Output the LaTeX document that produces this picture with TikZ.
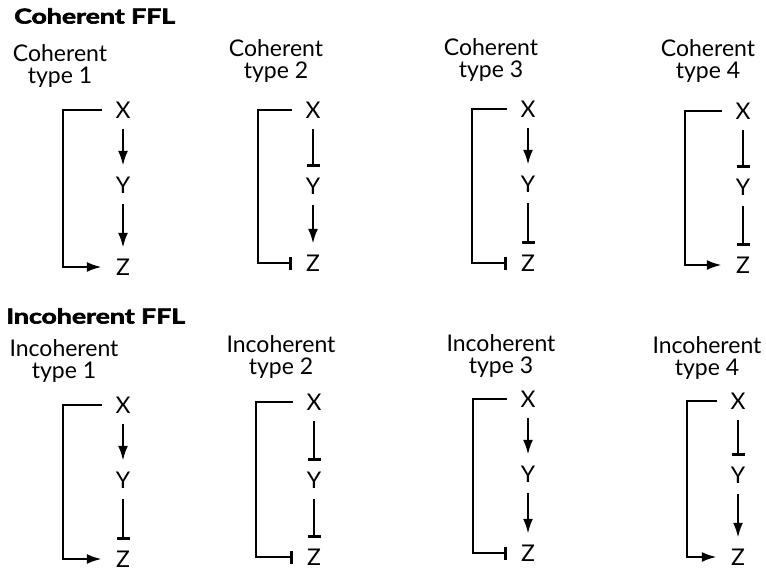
\documentclass[tikz,border=0pt]{standalone}
\usepackage{fontspec}
\setmainfont{Lato}
\newfontfamily\headfont{Lato}[FakeBold=3, FakeStretch=1.3]
\usetikzlibrary{arrows.meta}
\tikzset{
  gene/.style={
    inner sep=0pt,
    minimum width=42pt,
    minimum height=38pt,
    font=\fontsize{23}{23}\selectfont
  },
  kind/.style={
    align=center,
    font=\fontsize{23}{23}\selectfont,
    execute at begin node=\setlength{\baselineskip}{22pt}
  },
  heading/.style={anchor=west, inner sep=0pt, font=\headfont\bfseries\fontsize{20.5}{20.5}\selectfont}
}
\tikzstyle{act} = [-{Latex[length=15pt,width=10pt]}, line width=2.5pt]
\tikzstyle{inh} = [-{Bar[width=13pt]}, line width=2.5pt]

\begin{document}
\begin{tikzpicture}[x=1pt, y=-1pt]
    \useasboundingbox (0,0) rectangle (766,573);
    % coherent
    \node[heading] (coh) at (14,16) {Coherent FFL};
    \node[kind] (c1lab) at (60,66) {Coherent\\type 1};
    \node[gene] (c1x) at (123,110) {X};
    \node[gene] (c1y) at (123,185) {Y};
    \node[gene] (c1z) at (123,267) {Z};
    \draw[act] (c1x) -- (c1y);
    \draw[act] (c1y) -- (c1z);
    \draw[act] (c1x.west) -- ++(-39,0) |- (c1z.west);

    \node[kind] (c2lab) at (276,61) {Coherent\\type 2};
    \node[gene] (c2x) at (313,110) {X};
    \node[gene] (c2y) at (313,186) {Y};
    \node[gene] (c2z) at (313,263) {Z};
    \draw[inh] (c2x) -- (c2y);
    \draw[act] (c2y) -- (c2z);
    \draw[inh] (c2x.west) -- ++(-34,0) |- (c2z.west);

    \node[kind] (c3lab) at (491,60) {Coherent\\type 3};
    \node[gene] (c3x) at (528,109) {X};
    \node[gene] (c3y) at (528,184) {Y};
    \node[gene] (c3z) at (528,263) {Z};
    \draw[act] (c3x) -- (c3y);
    \draw[inh] (c3y) -- (c3z);
    \draw[inh] (c3x.west) -- ++(-35,0) |- (c3z.west);

    \node[kind] (c4lab) at (708,61) {Coherent\\type 4};
    \node[gene] (c4x) at (743,111) {X};
    \node[gene] (c4y) at (743,187) {Y};
    \node[gene] (c4z) at (743,265) {Z};
    \draw[inh] (c4x) -- (c4y);
    \draw[inh] (c4y) -- (c4z);
    \draw[act] (c4x.west) -- ++(-37,0) |- (c4z.west);

    % incoherent
    \node[heading] (inc) at (6,316) {Incoherent FFL};
    \node[kind] (i1lab) at (64,361) {Incoherent\\type 1};
    \node[gene] (i1x) at (123,405) {X};
    \node[gene] (i1y) at (123,480) {Y};
    \node[gene] (i1z) at (123,559) {Z};
    \draw[act] (i1x) -- (i1y);
    \draw[inh] (i1y) -- (i1z);
    \draw[act] (i1x.west) -- ++(-39,0) |- (i1z.west);

    \node[kind] (i2lab) at (281,357) {Incoherent\\type 2};
    \node[gene] (i2x) at (314,402) {X};
    \node[gene] (i2y) at (314,480) {Y};
    \node[gene] (i2z) at (314,557) {Z};
    \draw[inh] (i2x) -- (i2y);
    \draw[inh] (i2y) -- (i2z);
    \draw[inh] (i2x.west) -- ++(-37,0) |- (i2z.west);

    \node[kind] (i3lab) at (501,356) {Incoherent\\type 3};
    \node[gene] (i3x) at (528,399) {X};
    \node[gene] (i3y) at (528,474) {Y};
    \node[gene] (i3z) at (528,553) {Z};
    \draw[act] (i3x) -- (i3y);
    \draw[act] (i3y) -- (i3z);
    \draw[inh] (i3x.west) -- ++(-34,0) |- (i3z.west);

    \node[kind] (i4lab) at (707,358) {Incoherent\\type 4};
    \node[gene] (i4x) at (738,401) {X};
    \node[gene] (i4y) at (738,475) {Y};
    \node[gene] (i4z) at (738,557) {Z};
    \draw[inh] (i4x) -- (i4y);
    \draw[act] (i4y) -- (i4z);
    \draw[act] (i4x.west) -- ++(-30,0) |- (i4z.west);
\end{tikzpicture}
\end{document}
